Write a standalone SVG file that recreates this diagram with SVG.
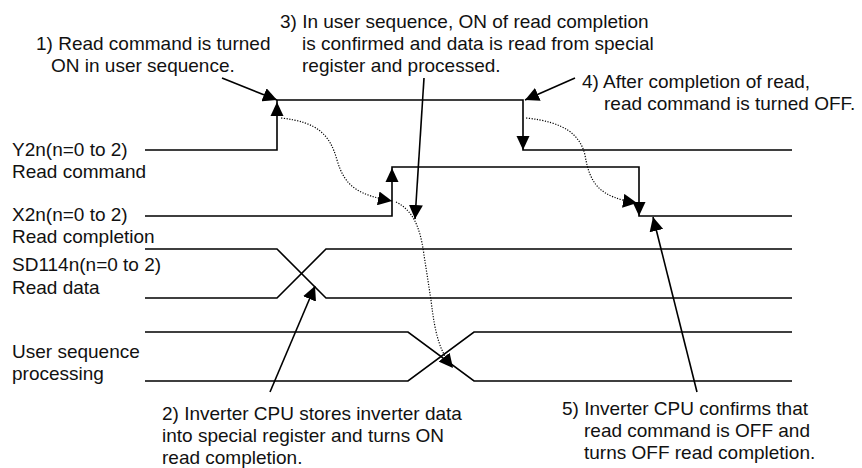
<svg xmlns="http://www.w3.org/2000/svg" width="862" height="468" viewBox="0 0 862 468">
<style>
text{font-family:"Liberation Sans",Arial,sans-serif;font-size:19px;fill:#111}
.sig{fill:none;stroke:#000;stroke-width:1.6}
.ann{fill:none;stroke:#000;stroke-width:1.6}
.dot{fill:none;stroke:#000;stroke-width:1.2;stroke-dasharray:1.2 1.5}
.head{fill:#000}
</style>
<defs>
<marker id="ah" viewBox="0 0 14 14" markerUnits="userSpaceOnUse" markerWidth="14" markerHeight="14" refX="14" refY="7" orient="auto">
<path d="M0,0 L14,7 L0,14 z" fill="#000"/>
</marker>
</defs>
<rect width="862" height="468" fill="#fff"/>

<g id="signal-y2n">
<text x="12" y="156">Y2n(n=0 to 2)</text>
<text x="12" y="178">Read command</text>
<polyline class="sig" points="145,150 277,150 277,100 523,100 523,150 792,150"/>
<polygon class="head" points="277,102 270.5,116 283.5,116"/>
<polygon class="head" points="523,150 516.5,136 529.5,136"/>
</g>

<g id="signal-x2n">
<text x="12" y="221">X2n(n=0 to 2)</text>
<text x="12" y="243">Read completion</text>
<polyline class="sig" points="145,216 392,216 392,167 639,167 639,216 792,216"/>
<polygon class="head" points="392,168 385.5,182 398.5,182"/>
<polygon class="head" points="639,216 632.5,202 645.5,202"/>
</g>

<g id="signal-sd114n">
<text x="12" y="271">SD114n(n=0 to 2)</text>
<text x="12" y="294">Read data</text>
<polyline class="sig" points="145,249 277,249 326,298 792,298"/>
<polyline class="sig" points="145,298 277,298 326,249 792,249"/>
</g>

<g id="signal-user">
<text x="12" y="358">User sequence</text>
<text x="12" y="380">processing</text>
<polyline class="sig" points="145,332 408,332 474,381 792,381"/>
<polyline class="sig" points="145,381 408,381 474,332 792,332"/>
</g>

<g id="note-1">
<text x="36" y="50">1) Read command is turned</text>
<text x="51" y="72">ON in user sequence.</text>
</g>
<g id="note-2">
<text x="162" y="420">2) Inverter CPU stores inverter data</text>
<text x="162" y="442">into special register and turns ON</text>
<text x="162" y="463.5">read completion.</text>
</g>
<g id="note-3">
<text x="280" y="28">3) In user sequence, ON of read completion</text>
<text x="302" y="50">is confirmed and data is read from special</text>
<text x="302" y="72">register and processed.</text>
</g>
<g id="note-4">
<text x="582" y="88">4) After completion of read,</text>
<text x="604" y="110">read command is turned OFF.</text>
</g>
<g id="note-5">
<text x="562" y="415">5) Inverter CPU confirms that</text>
<text x="584" y="437">read command is OFF and</text>
<text x="584" y="459">turns OFF read completion.</text>
</g>

<g id="connectors">
<path class="ann" d="M222,78 L277,100" marker-end="url(#ah)"/>
<path class="ann" d="M270,392 L315,286" marker-end="url(#ah)"/>
<path class="ann" d="M424,78 L415,219" marker-end="url(#ah)"/>
<path class="ann" d="M575,78 L525,100" marker-end="url(#ah)"/>
<path class="ann" d="M697,392 L653,217" marker-end="url(#ah)"/>
<path class="dot" d="M281,118 C318,122 330,135 337,160 C345,188 360,195 392,201" marker-end="url(#ah)"/>
<path class="dot" d="M396,202 C412,210 420,225 424,255 L431,300 C435,335 440,352 453,368" marker-end="url(#ah)"/>
<path class="dot" d="M526,118 C565,122 580,135 585,155 C590,185 600,197 637,203" marker-end="url(#ah)"/>
</g>
</svg>
